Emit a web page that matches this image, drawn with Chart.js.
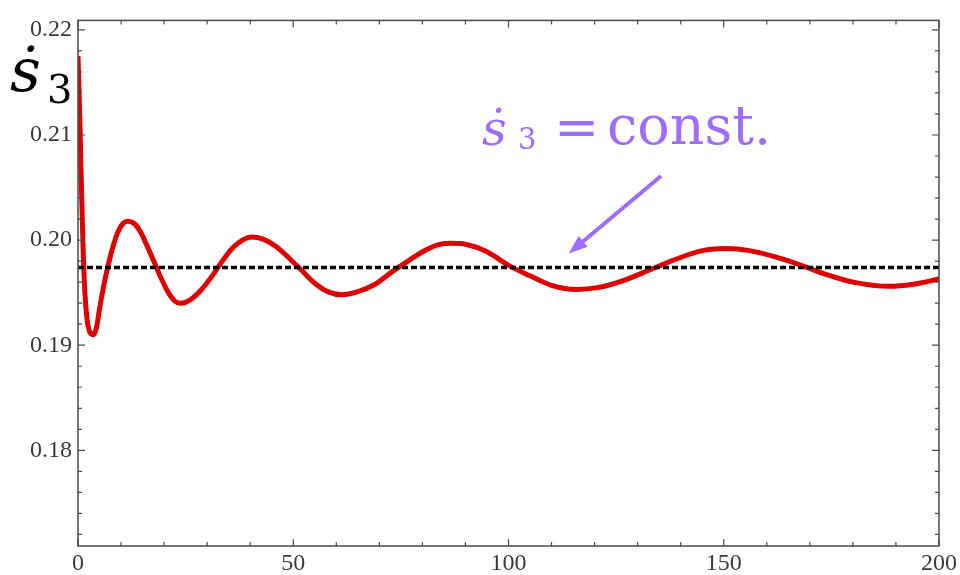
<!DOCTYPE html>
<html>
<head>
<meta charset="utf-8">
<script src="https://cdn.jsdelivr.net/npm/chart.js@4/dist/chart.umd.min.js"></script>
<style>
  html, body { margin: 0; padding: 0; background: #fff; }
  #wrap { width: 960px; height: 575px; }
</style>
</head>
<body>
<div id="wrap"><canvas id="chart"></canvas></div>
<script>
// values
const tVals = [0, 0.4, 0.8, 1.2, 1.6, 2.1, 2.7, 3.6, 4.3, 5.1, 6.0, 6.9, 8.0, 9.3, 10.5, 11.6,
  13, 14.5, 16, 17.7, 19.5, 21, 22.5, 23.8, 26, 28.5, 31, 33.5, 36, 38.2, 40.3,
  43, 46, 49, 52, 55, 58, 61.3, 65, 69, 73, 77, 81, 84, 86.6,
  90, 95, 100, 105, 110, 115.7, 121, 127, 133, 139, 145, 150.5,
  156, 162, 168, 174, 180, 188.4, 194, 200];
const s3Vals = [0.2175, 0.2120, 0.2050, 0.1990, 0.1950, 0.1925, 0.1913, 0.1910, 0.1917, 0.1937,
  0.1957, 0.1974, 0.1992, 0.2008, 0.2016, 0.2018,
  0.2016, 0.2008, 0.1995, 0.1979, 0.1962, 0.1950, 0.1942, 0.1940, 0.1943, 0.1952, 0.1965,
  0.1980, 0.1993, 0.2000, 0.2003,
  0.2001, 0.1994, 0.1983, 0.1971, 0.1959, 0.1951, 0.1948, 0.1951, 0.1958, 0.1970, 0.1981,
  0.1991, 0.1996, 0.1997,
  0.1996, 0.1989, 0.1976, 0.1966, 0.1957, 0.1953, 0.1955, 0.1962, 0.1972, 0.1982, 0.1990, 0.1992,
  0.1990, 0.1984, 0.1976, 0.1967, 0.1960, 0.1956, 0.1958, 0.1963];
const constVal = 0.1974;
const xTicks = [0, 50, 100, 150, 200];
const yTicks = [0.18, 0.19, 0.20, 0.21, 0.22];

const COLORS = {
  curve: 'rgb(222, 0, 0)',
  dashed: '#000',
  frame: '#4a4a4a',
  label: '#3a3a3a',
  note: 'rgb(158, 108, 255)'
};

const curveData = tVals.map((t, i) => ({x: t, y: s3Vals[i]}));
const constData = [{x: 0, y: constVal}, {x: 200, y: constVal}];

// frame with inward ticks (major + minor), like the original plot
const framePlugin = {
  id: 'frame',
  afterDraw(chart) {
    const {ctx, chartArea: a, scales: {x, y}} = chart;
    ctx.save();
    ctx.strokeStyle = COLORS.frame;
    ctx.lineWidth = 1.5;
    ctx.strokeRect(a.left, a.top, a.right - a.left, a.bottom - a.top);
    ctx.lineWidth = 1.2;
    for (let v = 0; v <= 200; v += 10) {
      const px = x.getPixelForValue(v);
      const len = v % 50 === 0 ? 7 : 4;
      ctx.beginPath();
      ctx.moveTo(px, a.bottom); ctx.lineTo(px, a.bottom - len);
      ctx.moveTo(px, a.top); ctx.lineTo(px, a.top + len);
      ctx.stroke();
    }
    for (let k = 172; k <= 220; k += 2) {
      const py = y.getPixelForValue(k / 1000);
      const len = k % 10 === 0 ? 7 : 4;
      ctx.beginPath();
      ctx.moveTo(a.left, py); ctx.lineTo(a.left + len, py);
      ctx.moveTo(a.right, py); ctx.lineTo(a.right - len, py);
      ctx.stroke();
    }
    ctx.restore();
  }
};

// axis symbol and the purple note with its arrow
const notesPlugin = {
  id: 'notes',
  afterDraw(chart) {
    const {ctx, scales: {x, y}} = chart;
    ctx.save();
    ctx.textBaseline = 'alphabetic';
    ctx.fillStyle = '#000';
    ctx.font = 'italic 60px "DejaVu Serif", serif';
    ctx.fillText('\u1E61', 10, 91);
    ctx.font = '40px "DejaVu Serif", serif';
    ctx.fillText('3', 47, 103);

    ctx.fillStyle = COLORS.note;
    ctx.font = 'italic 48px "DejaVu Serif", serif';
    ctx.fillText('\u1E61', 482, 145);
    ctx.font = '29px "DejaVu Serif", serif';
    ctx.fillText('3', 518, 149);
    ctx.font = '54px "DejaVu Serif", serif';
    ctx.fillText('=', 554, 146);
    ctx.fillText('const.', 607, 144);

    const tipX = x.getPixelForValue(114);
    const tipY = y.getPixelForValue(constVal) - 14;
    const tailX = 661, tailY = 176;
    const ang = Math.atan2(tipY - tailY, tipX - tailX);
    ctx.strokeStyle = COLORS.note;
    ctx.lineWidth = 4;
    ctx.beginPath();
    ctx.moveTo(tailX, tailY);
    ctx.lineTo(tipX - 10 * Math.cos(ang), tipY - 10 * Math.sin(ang));
    ctx.stroke();
    ctx.beginPath();
    ctx.moveTo(tipX, tipY);
    ctx.lineTo(tipX - 20 * Math.cos(ang - 0.36), tipY - 20 * Math.sin(ang - 0.36));
    ctx.lineTo(tipX - 20 * Math.cos(ang + 0.36), tipY - 20 * Math.sin(ang + 0.36));
    ctx.closePath();
    ctx.fill();
    ctx.restore();
  }
};

const config = {
  type: 'line',
  data: {
    datasets: [
      {
        label: 's3dot',
        data: curveData,
        borderColor: COLORS.curve,
        borderWidth: 5,
        pointRadius: 0,
        cubicInterpolationMode: 'monotone',
        order: 2
      },
      {
        label: 'const',
        data: constData,
        borderColor: COLORS.dashed,
        borderWidth: 3.5,
        borderDash: [6, 3],
        pointRadius: 0,
        order: 1
      }
    ]
  },
  options: {
    animation: false,
    responsive: true,
    maintainAspectRatio: false,
    layout: {padding: {top: 13, right: 18, left: 0, bottom: 0}},
    plugins: {
      legend: {display: false},
      tooltip: {enabled: false}
    },
    scales: {
      x: {
        type: 'linear',
        min: 0,
        max: 200,
        afterBuildTicks: s => { s.ticks = xTicks.map(v => ({value: v})); },
        afterFit: s => { s.height = 29; },
        grid: {display: false, drawTicks: false},
        border: {display: false},
        ticks: {
          padding: 3,
          color: COLORS.label,
          font: {family: '"Liberation Serif", serif', size: 24},
          maxRotation: 0
        }
      },
      y: {
        min: 0.1709,
        max: 0.2209,
        afterBuildTicks: s => { s.ticks = yTicks.map(v => ({value: v})); },
        afterFit: s => { s.width = 78; },
        grid: {display: false, drawTicks: false},
        border: {display: false},
        ticks: {
          padding: 6,
          color: COLORS.label,
          font: {family: '"Liberation Serif", serif', size: 24},
          callback: v => v.toFixed(2)
        }
      }
    }
  },
  plugins: [framePlugin, notesPlugin]
};

const chart = new Chart(document.getElementById('chart'), config);
</script>
</body>
</html>
